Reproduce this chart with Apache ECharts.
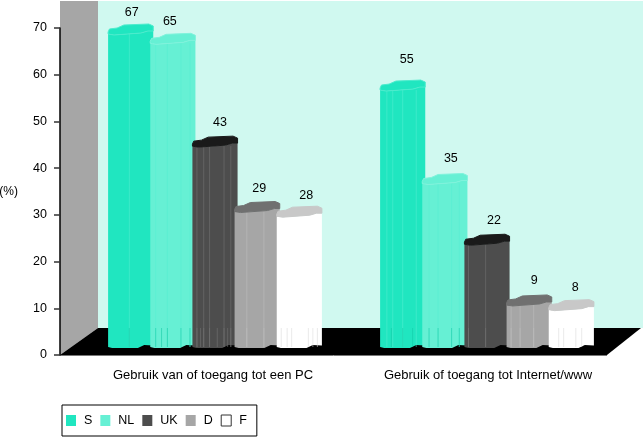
<!DOCTYPE html>
<html><head><meta charset="utf-8">
<style>html,body{margin:0;padding:0;background:#fff}#c{width:643px;height:438px}</style>
<script src="https://cdn.jsdelivr.net/npm/echarts@6/dist/echarts.min.js"></script>
</head><body><div id="c"></div>
<script>
const categories = ['Gebruik van of toegang tot een PC', 'Gebruik of toegang tot Internet/www'];
const S = [67, 55];
const NL = [65, 35];
const UK = [43, 22];
const D = [29, 9];
const F = [28, 8];

const FONT = '"Liberation Sans", Arial, sans-serif';
const DEPTH = 27, SHIFT = 19, LIFT = 7;
const STEP = 0.155, WIDTH = 0.166;
const topShape = [[0,-3],[.03,-6],[.2,-7],[.35,-10],[.9,-11],[1,-9],[1,-4],[.88,-4],[.73,-2],[.13,0],[0,-1]];
const baseShape = [[0,-1],[.09,0],[.66,0],[.8,-3],[1,-2.5]];

const styles = [
  {name:'S',  data:S,  body:'#20e6c0', top:'#20e6c0', edge:'#4ceccd',
   full:[[.47],[.15,.28,.5,.8]], low:[[.47],[.25,.5,.72]], ldx:[2,5], ldy:[2,-8]},
  {name:'NL', data:NL, body:'#66f0d4', top:'#66f0d4', edge:'#80f3dc',
   full:[[.12,.38,.68,.88],[.15,.35,.65,.82]], low:[[.12,.25,.38,.68,.88],[.15,.35,.65,.82]], ldx:[-2,7], ldy:[1,-2]},
  {name:'UK', data:UK, body:'#4d4d4d', top:'#1a1a1a', edge:'#1a1a1a',
   full:[[.1,.25,.38,.7,.85],[.09,.47]], low:[[.1,.18,.25,.38,.55,.7,.78,.85],[.09,.47]], ldx:[6,8], ldy:[-1,-1]},
  {name:'D',  data:D,  body:'#a6a6a6', top:'#707070', edge:'#707070',
   full:[[.27,.65],[.1,.3,.6]], low:[[.27,.65],[.1,.3,.6]], ldx:[3,6], ldy:[0,-1]},
  {name:'F',  data:F,  body:'#ffffff', top:'#c8c8c8', edge:'#c8c8c8',
   full:[[],[]], low:[[.1,.23,.33,.7,.8,.9],[.22,.33,.6,.73]], ldx:[8,5], ldy:[2,1]}
];

function barRender(idx) {
  const st = styles[idx];
  return function (params, api) {
    const cat = api.value(0), val = api.value(1);
    const band = api.size([1, 0])[0];
    const centre = api.coord([cat, 0])[0];
    const w = band * WIDTH;
    const x0 = centre + (idx - 2) * band * STEP - w / 2;
    const yBase = api.coord([cat, 0])[1] - LIFT;
    const yTop = api.coord([cat, val])[1] - LIFT;
    const floorBack = api.coord([cat, 0])[1] - DEPTH;
    const pt = (p, y) => [x0 + p[0] * w, y + p[1]];
    const body = [pt([0,-3], yTop)]
      .concat(baseShape.map(p => pt(p, yBase)))
      .concat([pt([1,-9], yTop), pt([1,-4], yTop), pt([.88,-4], yTop), pt([.73,-2], yTop), pt([.13,0], yTop), pt([0,-1], yTop)]);
    const children = [{type:'polygon', shape:{points:body}, style:{fill:st.body}}];
    const line = (u, y1, y2, c) => ({type:'line',
      shape:{x1:x0+u*w, y1:y1, x2:x0+u*w, y2:y2},
      style:{stroke:c, lineWidth:1, opacity:.55}});
    const facet = idx === 4 ? '#d8d8d8' : (idx === 2 ? '#777777' : (idx === 3 ? '#bdbdbd' : '#55eed2'));
    st.full[cat].forEach(u => children.push(line(u, yTop - 1, yBase - 1, facet)));
    st.low[cat].forEach(u => children.push(line(u, floorBack, yBase - 1, idx < 2 ? '#10c8a4' : facet)));
    children.push({type:'polygon', shape:{points:topShape.map(p => pt(p, yTop))},
      style:{fill:st.top, stroke:st.edge, lineWidth:1}});
    children.push({type:'text', style:{text:String(val), x:x0 + w/2 - 1 + st.ldx[cat], y:yTop - 24 + st.ldy[cat],
      align:'center', verticalAlign:'middle', fill:'#000', font:'12.5px ' + FONT}});
    return {type:'group', children};
  };
}

function backdrop(params) {
  const c = params.coordSys;
  const left = c.x - SHIFT, bottom = c.y + c.height, right = 643;
  const backX = left + 38, backY = bottom - DEPTH;
  return {type:'group', children:[
    {type:'rect', shape:{x:backX, y:1, width:right-backX, height:backY-1}, style:{fill:'#d0f9f0'}},
    {type:'polygon', shape:{points:[[left,1],[backX,1],[backX,backY],[left,bottom]]}, style:{fill:'#a6a6a6'}},
    {type:'polygon', shape:{points:[[left,bottom],[backX,backY],[641,backY],[607,bottom]]}, style:{fill:'#000'}},
    {type:'line', shape:{x1:left, y1:bottom+.5, x2:607, y2:bottom+.5}, style:{stroke:'#777', lineWidth:1}}
  ]};
}

const series = [{type:'custom', name:'_bg', coordinateSystem:'cartesian2d', data:[[0,0]], renderItem:backdrop, silent:true, z:1, clip:false}]
  .concat(styles.map((st, i) => ({
    type:'custom', name:st.name, coordinateSystem:'cartesian2d',
    encode:{x:0, y:1}, z:2+i, clip:false,
    itemStyle:{color:st.body},
    data:st.data.map((v, k) => [k, v]),
    renderItem:barRender(i)
  })));

const chart = echarts.init(document.getElementById('c'), null, {renderer:'canvas'});
chart.setOption({
  animation:false,
  backgroundColor:'#fff',
  grid:{left:79, top:28, width:544, height:327, outerBoundsMode:'none', containLabel:false},
  xAxis:{type:'category', data:[
      {value:categories[0], textStyle:{padding:[0,4,0,0]}},
      {value:categories[1], textStyle:{padding:[0,0,0,2]}}
    ],
    axisLine:{show:false}, axisTick:{show:false},
    axisLabel:{margin:14, color:'#000', fontFamily:FONT, fontSize:13, interval:0}},
  yAxis:{type:'value', min:0, max:70, interval:10, offset:19, z:20,
    name:'(%)', nameLocation:'middle', nameRotate:0, nameGap:42,
    nameTextStyle:{color:'#000', fontFamily:FONT, fontSize:12, padding:[0,0,6,0]},
    axisLine:{show:true, lineStyle:{color:'#000', width:1.5}},
    axisTick:{show:true, length:6, lineStyle:{color:'#333', width:1.5}},
    axisLabel:{margin:13, color:'#000', fontFamily:FONT, fontSize:12.5, padding:[2,0,0,0]},
    splitLine:{show:false}},
  legend:{left:62, top:405, orient:'horizontal', icon:'rect', itemWidth:10, itemHeight:11, itemGap:8,
    padding:[9,10,9,4], backgroundColor:'#fff', borderColor:'#000', borderWidth:1,
    textStyle:{color:'#000', fontFamily:FONT, fontSize:12.5, padding:[0,0,0,3]},
    data:['S','NL','UK','D',{name:'F', itemStyle:{borderColor:'#333', borderWidth:1}}]},
  series
});
</script></body></html>
